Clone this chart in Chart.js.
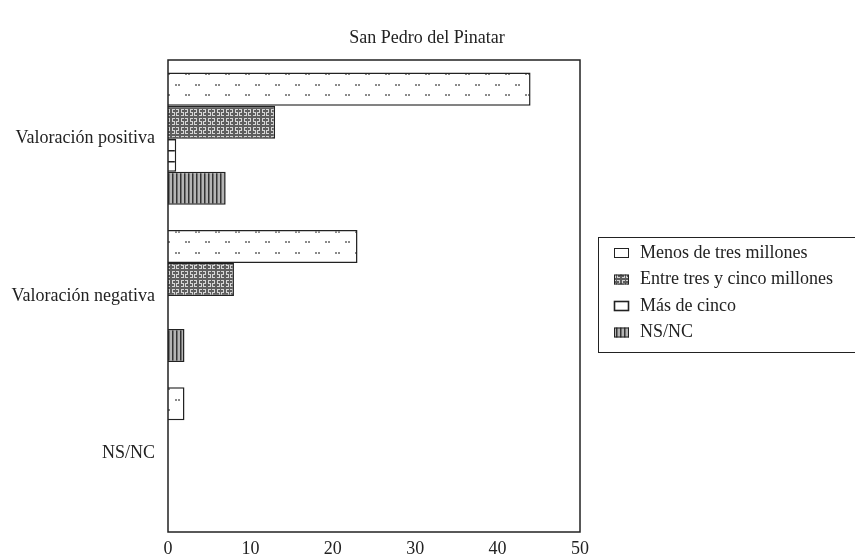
<!DOCTYPE html>
<html>
<head>
<meta charset="utf-8">
<title>San Pedro del Pinatar</title>
<script src="https://cdn.jsdelivr.net/npm/chart.js@4/dist/chart.umd.min.js"></script>
<style>
  body { margin: 0; background: #fff; }
</style>
</head>
<body>
<canvas id="chart" width="855" height="557"></canvas>
<script>
// chart data
var chartTitle = "San Pedro del Pinatar";
var categories = ["Valoración positiva", "Valoración negativa", "NS/NC"];
var seriesNames = ["Menos de tres millones", "Entre tres y cinco millones", "Más de cinco", "NS/NC"];
var menosDeTres = [44, 23, 2];
var entreTresYCinco = [13, 8, 0];
var masDeCinco = [1, 0, 0];
var nsnc = [7, 2, 0];
var xTicks = [0, 10, 20, 30, 40, 50];

// small tiles used as bar fills
function makePattern(w, h, draw) {
  var c = document.createElement("canvas");
  c.width = w;
  c.height = h;
  var g = c.getContext("2d");
  draw(g);
  return g.createPattern(c, "repeat");
}

var dotsPattern = makePattern(20, 21, function (g) {
  g.fillStyle = "#fff";
  g.fillRect(0, 0, 20, 21);
  g.fillStyle = "#8a8a8a";
  g.fillRect(15, 0, 2, 2);
  g.fillRect(18, 0, 2, 2);
  g.fillRect(5, 10, 2, 2);
  g.fillRect(8, 10, 2, 2);
});

var mazePattern = makePattern(9, 9, function (g) {
  g.fillStyle = "#5e5e5e";
  g.fillRect(0, 0, 9, 9);
  g.fillStyle = "#d6d6d6";
  g.fillRect(1, 1, 3, 1);
  g.fillRect(1, 1, 1, 3);
  g.fillRect(1, 4, 3, 1);
  g.fillRect(3, 4, 1, 3);
  g.fillRect(1, 7, 3, 1);
  g.fillRect(5, 1, 3, 1);
  g.fillRect(7, 1, 1, 3);
  g.fillRect(5, 4, 3, 1);
  g.fillRect(5, 4, 1, 3);
  g.fillRect(5, 7, 3, 1);
});

var hLinesPattern = makePattern(8, 11, function (g) {
  g.fillStyle = "#fff";
  g.fillRect(0, 0, 8, 11);
  g.fillStyle = "#222";
  g.fillRect(0, 7, 8, 1.5);
});

var vLinesPattern = makePattern(4, 4, function (g) {
  g.fillStyle = "#b4b4b4";
  g.fillRect(0, 0, 4, 4);
  g.fillStyle = "#333";
  g.fillRect(0, 0, 1.5, 4);
});

// legend swatches are plain boxes for the light series
var swatchFills = ["#fff", mazePattern, "#fff", vLinesPattern];

Chart.defaults.font.family = "'Liberation Serif', 'Times New Roman', serif";
Chart.defaults.font.size = 18;
Chart.defaults.color = "#222";

// frame around the plot, title and boxed legend
var decorPlugin = {
  id: "decor",
  afterDatasetsDraw: function (chart) {
    var a = chart.chartArea;
    var ctx = chart.ctx;
    ctx.save();
    ctx.strokeStyle = "#222";
    ctx.lineWidth = 1.5;
    ctx.strokeRect(a.left, a.top, a.right - a.left, a.bottom - a.top);
    ctx.restore();
  },
  afterDraw: function (chart) {
    var ctx = chart.ctx;
    ctx.save();
    ctx.font = "18px 'Liberation Serif', serif";
    ctx.fillStyle = "#222";
    ctx.textAlign = "center";
    ctx.textBaseline = "middle";
    ctx.fillText(chartTitle, 427, 38);

    ctx.strokeStyle = "#222";
    ctx.lineWidth = 1;
    ctx.strokeRect(598.5, 237.5, 300, 115);
    ctx.textAlign = "left";
    chart.data.datasets.forEach(function (ds, i) {
      var y = 253 + i * 26.5;
      ctx.fillStyle = swatchFills[i];
      ctx.fillRect(614, y - 5, 15, 10);
      ctx.lineWidth = i === 2 ? 1.6 : 1;
      ctx.strokeRect(614.5, y - 4.5, 14, 9);
      ctx.fillStyle = "#222";
      ctx.fillText(ds.label, 640, y);
    });
    ctx.restore();
  }
};

var ctx = document.getElementById("chart").getContext("2d");
var chart = new Chart(ctx, {
  type: "bar",
  data: {
    labels: categories,
    datasets: [
      { label: seriesNames[0], data: menosDeTres, backgroundColor: dotsPattern },
      { label: seriesNames[1], data: entreTresYCinco, backgroundColor: mazePattern },
      { label: seriesNames[2], data: masDeCinco, backgroundColor: hLinesPattern },
      { label: seriesNames[3], data: nsnc, backgroundColor: vLinesPattern }
    ]
  },
  options: {
    indexAxis: "y",
    responsive: false,
    animation: false,
    layout: { padding: { top: 60, right: 275, left: 0, bottom: 0 } },
    datasets: {
      bar: {
        borderColor: "#222",
        borderWidth: 1.5,
        categoryPercentage: 0.84,
        barPercentage: 1.0
      }
    },
    scales: {
      x: {
        min: xTicks[0],
        max: xTicks[xTicks.length - 1],
        ticks: { stepSize: xTicks[1] - xTicks[0], padding: 6 },
        grid: { display: false, drawTicks: false },
        border: { display: false },
        afterFit: function (scale) { scale.height = 25; }
      },
      y: {
        ticks: { padding: 13 },
        grid: { display: false, drawTicks: false },
        border: { display: false },
        afterFit: function (scale) { scale.width = 168; }
      }
    },
    plugins: {
      legend: { display: false },
      tooltip: { enabled: false }
    }
  },
  plugins: [decorPlugin]
});
</script>
</body>
</html>
